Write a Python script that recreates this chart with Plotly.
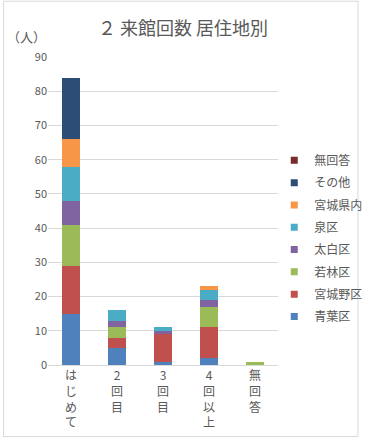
import plotly.graph_objects as go

categories = ["はじめて", "2回目", "3回目", "4回以上", "無回答"]
tick_labels = ["は<br>じ<br>め<br>て", "2<br>回<br>目", "3<br>回<br>目", "4<br>回<br>以<br>上", "無<br>回<br>答"]

aoba = [15, 5, 1, 2, 0]
miyaginoku = [14, 3, 8, 9, 0]
wakabayashi = [12, 3, 0, 6, 1]
taihaku = [7, 2, 1, 2, 0]
izumi = [10, 3, 1, 3, 0]
kennai = [8, 0, 0, 1, 0]
sonota = [18, 0, 0, 0, 0]
mukaitou = [0, 0, 0, 0, 0]

series = [
    ("青葉区", aoba, "#4F81BD"),
    ("宮城野区", miyaginoku, "#C0504D"),
    ("若林区", wakabayashi, "#9BBB59"),
    ("太白区", taihaku, "#8064A2"),
    ("泉区", izumi, "#4BACC6"),
    ("宮城県内", kennai, "#F79646"),
    ("その他", sonota, "#2C4D75"),
    ("無回答", mukaitou, "#772C2A"),
]

FONT = "Noto Sans CJK JP"
GRAY = "#595959"

fig = go.Figure()
for i, (name, vals, color) in enumerate(series):
    fig.add_trace(go.Bar(
        x=categories, y=vals, name=name, marker=dict(color=color, line=dict(width=0)),
        showlegend=False,
    ))
for i, (name, vals, color) in enumerate(reversed(series)):
    fig.add_trace(go.Scatter(
        x=[None], y=[None], mode="markers", name=name,
        marker=dict(symbol="square", size=7, color=color),
        legendgroup=f"g{i}",
    ))

L, R, T, B = 48, 294, 57, 369
W, H = 380, 442
pw, ph = R - L, B - T

fig.update_layout(
    width=W, height=H,
    margin=dict(l=L, r=W - R, t=T, b=H - B),
    barmode="stack", bargap=0.61,
    paper_bgcolor="white", plot_bgcolor="white",
    font=dict(family=FONT, color=GRAY, size=11),
    title=dict(text="２ 来館回数 居住地別", x=183 / W, xanchor="center", y=1 - 29 / H, yanchor="middle",
               font=dict(size=18, color=GRAY, family=FONT)),
    legend=dict(x=(290 - L) / pw, xanchor="left", y=(B - 147) / ph, yanchor="top",
                font=dict(size=12, color=GRAY, family=FONT), traceorder="grouped",
                tracegroupgap=3.3, bgcolor="rgba(0,0,0,0)", itemwidth=30),
    showlegend=True,
)
fig.update_xaxes(tickmode="array", tickvals=categories, ticktext=tick_labels,
                 showline=True, linecolor="#d9d9d9", linewidth=1, ticks="",
                 tickfont=dict(size=12, color=GRAY), showgrid=False)
fig.update_yaxes(range=[0, 90], dtick=10, showgrid=True, gridcolor="#d9d9d9", gridwidth=1,
                 zeroline=False, tickfont=dict(size=11, color=GRAY), ticks="", ticklen=0)

fig.add_annotation(text="（人）", xref="paper", yref="paper", x=(2 - L) / pw, y=(B - 36) / ph,
                   xanchor="left", yanchor="middle", showarrow=False,
                   font=dict(size=13, color=GRAY, family=FONT))

fig.add_shape(type="rect", xref="paper", yref="paper",
              x0=(0.5 - L) / pw, x1=(W - 0.5 - L) / pw,
              y0=(B - (H - 0.5)) / ph, y1=(B - 0.5) / ph,
              line=dict(color="#d9d9d9", width=1), layer="below")

fig.write_html("out.html", config={"displayModeBar": False},
               post_script="document.body.style.margin='0';document.body.style.overflow='hidden';")
